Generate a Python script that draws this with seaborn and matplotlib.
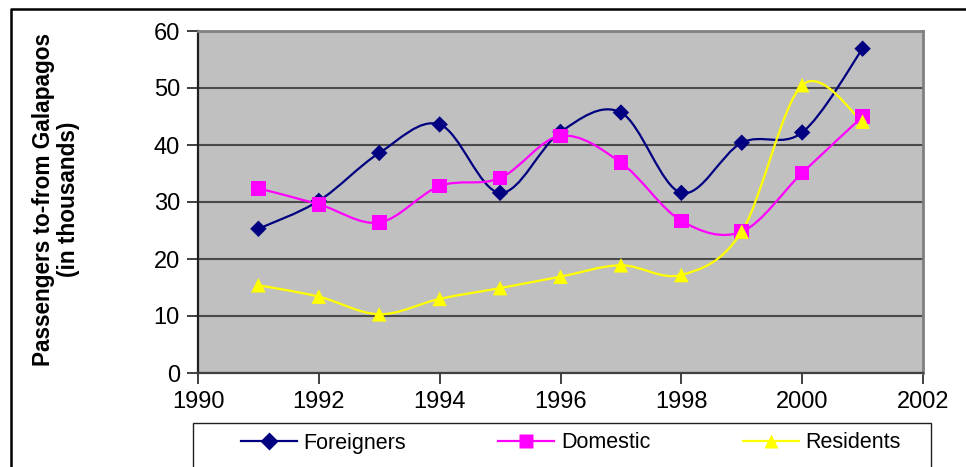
import numpy as np
import pandas as pd
import seaborn as sns
import matplotlib.pyplot as plt
from matplotlib.path import Path
from matplotlib.patches import PathPatch, Rectangle
from matplotlib.lines import Line2D

years = [1991, 1992, 1993, 1994, 1995, 1996, 1997, 1998, 1999, 2000, 2001]
foreigners = [25.3, 30.2, 38.6, 43.6, 31.6, 42.3, 45.7, 31.6, 40.4, 42.2, 56.9]
domestic = [32.4, 29.6, 26.4, 32.8, 34.2, 41.6, 36.9, 26.7, 24.8, 35.1, 45.0]
residents = [15.4, 13.4, 10.3, 13.0, 14.9, 16.9, 18.9, 17.2, 24.8, 50.5, 44.1]

series_names = ["Foreigners", "Domestic", "Residents"]
colors = {"Foreigners": "#000080", "Domestic": "#FF00FF", "Residents": "#FFFF00"}
markers = {"Foreigners": "D", "Domestic": "s", "Residents": "^"}
msizes = {"Foreigners": 70, "Domestic": 110, "Residents": 110}

df = pd.DataFrame({"year": years * 3,
                   "value": foreigners + domestic + residents,
                   "series": np.repeat(series_names, len(years))})


def smooth_path(x, y):
    # Excel-style smoothed line: cubic Bezier through each point
    pts = np.column_stack([x, y]).astype(float)
    n = len(pts)
    verts = [pts[0]]
    codes = [Path.MOVETO]
    for i in range(n - 1):
        p0 = pts[max(i - 1, 0)]
        p1 = pts[i]
        p2 = pts[i + 1]
        p3 = pts[min(i + 2, n - 1)]
        c1 = p1 + (p2 - p0) / 6.0
        c2 = p2 - (p3 - p1) / 6.0
        verts += [c1, c2, p2]
        codes += [Path.CURVE4] * 3
    return Path(verts, codes)


plt.rcParams['font.family'] = ['Liberation Sans', 'DejaVu Sans']
fig = plt.figure(figsize=(9.66, 4.67), dpi=100)
ax = fig.add_axes([198 / 966, 1 - 373 / 467, (923 - 198) / 966, (373 - 31) / 467])
ax.set_facecolor("#C0C0C0")

for name in series_names:
    sub = df[df.series == name]
    ax.add_patch(PathPatch(smooth_path(sub.year, sub.value), fill=False,
                           edgecolor=colors[name], lw=1.6, zorder=3))

sns.scatterplot(data=df, x="year", y="value", hue="series", style="series",
                palette=colors, markers=markers, size="series", sizes=msizes,
                edgecolor="none", legend=False, ax=ax, zorder=4)

ax.set_xlim(1990, 2002)
ax.set_ylim(0, 60)
ax.set_xticks(range(1990, 2003, 2))
ax.set_yticks(range(0, 61, 10))
ax.set_xlabel("")
ax.set_ylabel("")
ax.grid(axis="y", color="#4a4a4a", lw=1.5)
ax.set_axisbelow(True)
ax.tick_params(labelsize=17, length=8, width=1.2, color="#202020", pad=5)
for side in ["top", "right"]:
    ax.spines[side].set_color("#808080")
    ax.spines[side].set_linewidth(2)
ax.spines["left"].set_color("#202020")
ax.spines["left"].set_linewidth(1.6)
ax.spines["bottom"].set_color("#404040")
ax.spines["bottom"].set_linewidth(1.6)

fig.text(56 / 966, 1 - 199 / 467, "Passengers to-from Galapagos\n(in thousands)",
         rotation=90, ha="center", va="center", multialignment="center",
         fontsize=16.3, fontweight="bold", linespacing=1.15)

# outer chart border (left and top visible)
fig.add_artist(Line2D([10.5 / 966, 10.5 / 966, 1.0], [0, 1 - 9 / 467, 1 - 9 / 467],
                      transform=fig.transFigure, color="black", lw=1.8))

# legend box
fig.add_artist(Rectangle((193 / 966, -0.05), (931 - 193) / 966, 0.05 + 1 - 423 / 467,
                         transform=fig.transFigure, fill=False, edgecolor="#202020", lw=1.0))
handles = [Line2D([], [], color=colors[n], marker=markers[n], lw=1.6,
                  markersize=9 if n == "Foreigners" else 10, markeredgecolor="none")
           for n in series_names]
fig.legend(handles, series_names, loc="center left", bbox_to_anchor=(230 / 966, 1 - 443 / 467),
           ncol=3, frameon=False, fontsize=15.5, borderpad=0, handlelength=2.6,
           handletextpad=0.3, columnspacing=4.3)

fig.savefig("out.png", dpi=100)
